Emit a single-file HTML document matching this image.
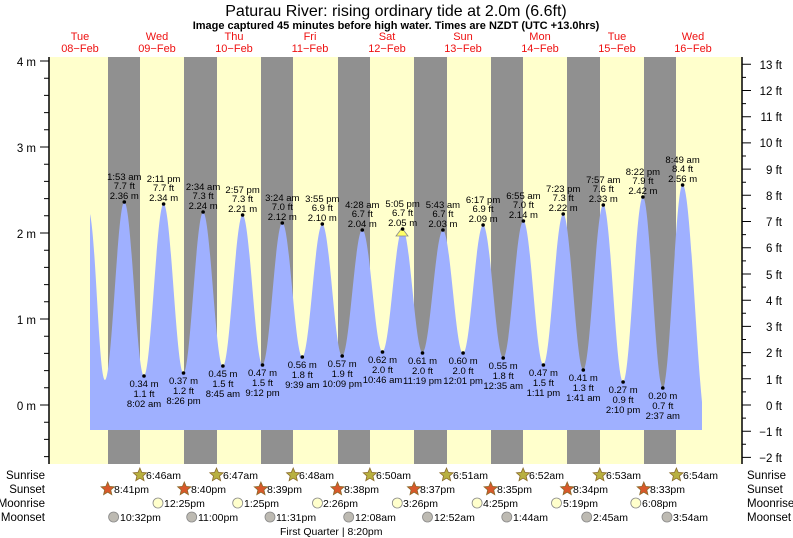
<!DOCTYPE html>
<html><head><meta charset="utf-8"><style>
body{margin:0;background:#fff;width:793px;height:538px;overflow:hidden}
svg{display:block;font-family:"Liberation Sans",sans-serif}
.hl text,.ll text{font-size:9.5px;text-anchor:middle;fill:#000}
.r{font-size:11.5px;fill:#000}
</style></head><body>
<svg width="793" height="538" viewBox="0 0 793 538" xmlns="http://www.w3.org/2000/svg" xmlns:xlink="http://www.w3.org/1999/xlink">
<defs>
<polygon id="st" points="0,-7 1.88,-2.59 6.66,-2.16 3.04,0.99 4.11,5.66 0,3.2 -4.11,5.66 -3.04,0.99 -6.66,-2.16 -1.88,-2.59" stroke="#8a6a2a" stroke-width="0.8"/>
<circle id="mc" cx="0" cy="0" r="5" stroke="#888" stroke-width="0.8"/>
</defs>
<rect x="49" y="57" width="693" height="407" fill="#ffffcc"/>
<g fill="#909090">
<rect x="108" y="57" width="32" height="407"/><rect x="184" y="57" width="33" height="407"/>
<rect x="261" y="57" width="32" height="407"/><rect x="338" y="57" width="32" height="407"/>
<rect x="414" y="57" width="33" height="407"/><rect x="491" y="57" width="32" height="407"/>
<rect x="567" y="57" width="33" height="407"/><rect x="644" y="57" width="32" height="407"/>
</g>
<path fill="#9fb0ff" d="M90,430 L90,214 C96,240 99,380 105,380
C112,380 117.3,202 124.3,202
C131.5,202 136.8,375.8 144,375.8
C151.1,375.8 156.5,203.8 163.6,203.8
C170.8,203.8 176.3,373.2 183.5,373.2
C190.6,373.2 196,212.4 203.1,212.4
C210.3,212.4 215.7,366.3 222.9,366.3
C230.1,366.3 235.4,215 242.6,215
C249.8,215 255.3,364.6 262.5,364.6
C269.7,364.6 275.1,222.7 282.3,222.7
C289.6,222.7 295,356.8 302.3,356.8
C309.6,356.8 315,224.4 322.3,224.4
C329.5,224.4 335,356 342.2,356
C349.5,356 355,229.6 362.3,229.6
C369.7,229.6 375.1,351.7 382.5,351.7
C389.8,351.7 395.3,228.7 402.6,228.7
C409.8,228.7 415.3,352.5 422.5,352.5
C429.9,352.5 435.5,230.4 442.9,230.4
C450.3,230.4 455.7,353.4 463.1,353.4
C470.4,353.4 475.8,225.3 483.1,225.3
C490.4,225.3 495.9,357.7 503.2,357.7
C510.6,357.7 516,221 523.4,221
C530.7,221 536.1,364.6 543.4,364.6
C550.6,364.6 556,214.1 563.2,214.1
C570.5,214.1 576,369.7 583.3,369.7
C590.6,369.7 596,204.6 603.3,204.6
C610.5,204.6 615.9,381.8 623.1,381.8
C630.3,381.8 635.7,196.9 642.9,196.9
C650.1,196.9 655.6,387.8 662.8,387.8
C670,387.8 675.4,184.8 682.6,184.8
C689.8,184.8 695,330 702,402 L702,430 Z"/>
<polygon points="396,236 402,228 408,236" fill="#ffff66" stroke="#888" stroke-width="0.8"/>
<g stroke="#000" fill="none">
<line x1="49" y1="57" x2="49" y2="464" stroke-width="1.5"/>
<line x1="742" y1="57" x2="742" y2="464" stroke-width="1.5"/>
<path stroke-width="1" d="M40,61H49 M40,147H49 M40,233H49 M40,319H49 M40,405H49
M44,456.6H49 M44,439.4H49 M44,422.2H49 M44,387.8H49 M44,370.6H49 M44,353.4H49 M44,336.2H49
M44,301.8H49 M44,284.6H49 M44,267.4H49 M44,250.2H49 M44,215.8H49 M44,198.6H49 M44,181.4H49 M44,164.2H49
M44,129.8H49 M44,112.6H49 M44,95.4H49 M44,78.2H49
M742,457.4H751 M742,431.2H751 M742,405H751 M742,378.8H751 M742,352.6H751 M742,326.4H751 M742,300.2H751 M742,274H751
M742,247.7H751 M742,221.5H751 M742,195.3H751 M742,169.1H751 M742,142.9H751 M742,116.7H751 M742,90.5H751 M742,64.2H751
M742,444.3H746 M742,418.1H746 M742,391.9H746 M742,365.7H746 M742,339.5H746 M742,313.3H746 M742,287.1H746 M742,260.9H746
M742,234.6H746 M742,208.4H746 M742,182.2H746 M742,156H746 M742,129.8H746 M742,103.6H746 M742,77.4H746"/>
</g>
<g class="r" text-anchor="end">
<text x="36" y="66">4 m</text><text x="36" y="152">3 m</text><text x="36" y="238">2 m</text><text x="36" y="324">1 m</text><text x="36" y="410">0 m</text>
</g>
<g class="r" text-anchor="end">
<text x="782" y="69">13 ft</text><text x="782" y="95">12 ft</text><text x="782" y="121">11 ft</text><text x="782" y="147">10 ft</text>
<text x="782" y="174">9 ft</text><text x="782" y="200">8 ft</text><text x="782" y="226">7 ft</text><text x="782" y="252">6 ft</text>
<text x="782" y="279">5 ft</text><text x="782" y="305">4 ft</text><text x="782" y="331">3 ft</text><text x="782" y="357">2 ft</text>
<text x="782" y="384">1 ft</text><text x="782" y="410">0 ft</text><text x="782" y="436">−1 ft</text><text x="782" y="462">−2 ft</text>
</g>
<text x="396" y="16" font-size="16" text-anchor="middle">Paturau River: rising  ordinary tide at 2.0m (6.6ft)</text>
<text x="396" y="29" font-size="11" font-weight="bold" text-anchor="middle">Image captured 45 minutes before high water. Times are NZDT (UTC +13.0hrs)</text>
<g font-size="11" fill="#ee1111" text-anchor="middle">
<text x="80" y="40">Tue</text><text x="80" y="52">08−Feb</text>
<text x="157" y="40">Wed</text><text x="157" y="52">09−Feb</text>
<text x="234" y="40">Thu</text><text x="234" y="52">10−Feb</text>
<text x="310" y="40">Fri</text><text x="310" y="52">11−Feb</text>
<text x="387" y="40">Sat</text><text x="387" y="52">12−Feb</text>
<text x="463" y="40">Sun</text><text x="463" y="52">13−Feb</text>
<text x="540" y="40">Mon</text><text x="540" y="52">14−Feb</text>
<text x="617" y="40">Tue</text><text x="617" y="52">15−Feb</text>
<text x="693" y="40">Wed</text><text x="693" y="52">16−Feb</text>
</g>
<g class="hl">
<circle cx="124.3" cy="202" r="1.8"/><text x="124.3" y="180">1:53 am</text><text x="124.3" y="189">7.7 ft</text><text x="124.3" y="199">2.36 m</text>
<circle cx="163.6" cy="204" r="1.8"/><text x="163.6" y="182">2:11 pm</text><text x="163.6" y="191">7.7 ft</text><text x="163.6" y="201">2.34 m</text>
<circle cx="203.1" cy="212" r="1.8"/><text x="203.1" y="190">2:34 am</text><text x="203.1" y="199">7.3 ft</text><text x="203.1" y="209">2.24 m</text>
<circle cx="242.6" cy="215" r="1.8"/><text x="242.6" y="193">2:57 pm</text><text x="242.6" y="202">7.3 ft</text><text x="242.6" y="212">2.21 m</text>
<circle cx="282.3" cy="223" r="1.8"/><text x="282.3" y="201">3:24 am</text><text x="282.3" y="210">7.0 ft</text><text x="282.3" y="220">2.12 m</text>
<circle cx="322.3" cy="224" r="1.8"/><text x="322.3" y="202">3:55 pm</text><text x="322.3" y="211">6.9 ft</text><text x="322.3" y="221">2.10 m</text>
<circle cx="362.3" cy="230" r="1.8"/><text x="362.3" y="208">4:28 am</text><text x="362.3" y="217">6.7 ft</text><text x="362.3" y="227">2.04 m</text>
<circle cx="402.6" cy="229" r="1.8"/><text x="402.6" y="207">5:05 pm</text><text x="402.6" y="216">6.7 ft</text><text x="402.6" y="226">2.05 m</text>
<circle cx="442.9" cy="230" r="1.8"/><text x="442.9" y="208">5:43 am</text><text x="442.9" y="217">6.7 ft</text><text x="442.9" y="227">2.03 m</text>
<circle cx="483.1" cy="225" r="1.8"/><text x="483.1" y="203">6:17 pm</text><text x="483.1" y="212">6.9 ft</text><text x="483.1" y="222">2.09 m</text>
<circle cx="523.4" cy="221" r="1.8"/><text x="523.4" y="199">6:55 am</text><text x="523.4" y="208">7.0 ft</text><text x="523.4" y="218">2.14 m</text>
<circle cx="563.2" cy="214" r="1.8"/><text x="563.2" y="192">7:23 pm</text><text x="563.2" y="201">7.3 ft</text><text x="563.2" y="211">2.22 m</text>
<circle cx="603.3" cy="205" r="1.8"/><text x="603.3" y="183">7:57 am</text><text x="603.3" y="192">7.6 ft</text><text x="603.3" y="202">2.33 m</text>
<circle cx="642.9" cy="197" r="1.8"/><text x="642.9" y="175">8:22 pm</text><text x="642.9" y="184">7.9 ft</text><text x="642.9" y="194">2.42 m</text>
<circle cx="682.6" cy="185" r="1.8"/><text x="682.6" y="163">8:49 am</text><text x="682.6" y="172">8.4 ft</text><text x="682.6" y="182">2.56 m</text>
</g>
<g class="ll">
<circle cx="144" cy="376" r="1.8"/><text x="144" y="387">0.34 m</text><text x="144" y="397">1.1 ft</text><text x="144" y="407">8:02 am</text>
<circle cx="183.5" cy="373" r="1.8"/><text x="183.5" y="384">0.37 m</text><text x="183.5" y="394">1.2 ft</text><text x="183.5" y="404">8:26 pm</text>
<circle cx="222.9" cy="366" r="1.8"/><text x="222.9" y="377">0.45 m</text><text x="222.9" y="387">1.5 ft</text><text x="222.9" y="397">8:45 am</text>
<circle cx="262.5" cy="365" r="1.8"/><text x="262.5" y="376">0.47 m</text><text x="262.5" y="386">1.5 ft</text><text x="262.5" y="396">9:12 pm</text>
<circle cx="302.3" cy="357" r="1.8"/><text x="302.3" y="368">0.56 m</text><text x="302.3" y="378">1.8 ft</text><text x="302.3" y="388">9:39 am</text>
<circle cx="342.2" cy="356" r="1.8"/><text x="342.2" y="367">0.57 m</text><text x="342.2" y="377">1.9 ft</text><text x="342.2" y="387">10:09 pm</text>
<circle cx="382.5" cy="352" r="1.8"/><text x="382.5" y="363">0.62 m</text><text x="382.5" y="373">2.0 ft</text><text x="382.5" y="383">10:46 am</text>
<circle cx="422.5" cy="353" r="1.8"/><text x="422.5" y="364">0.61 m</text><text x="422.5" y="374">2.0 ft</text><text x="422.5" y="384">11:19 pm</text>
<circle cx="463.1" cy="353" r="1.8"/><text x="463.1" y="364">0.60 m</text><text x="463.1" y="374">2.0 ft</text><text x="463.1" y="384">12:01 pm</text>
<circle cx="503.2" cy="358" r="1.8"/><text x="503.2" y="369">0.55 m</text><text x="503.2" y="379">1.8 ft</text><text x="503.2" y="389">12:35 am</text>
<circle cx="543.4" cy="365" r="1.8"/><text x="543.4" y="376">0.47 m</text><text x="543.4" y="386">1.5 ft</text><text x="543.4" y="396">1:11 pm</text>
<circle cx="583.3" cy="370" r="1.8"/><text x="583.3" y="381">0.41 m</text><text x="583.3" y="391">1.3 ft</text><text x="583.3" y="401">1:41 am</text>
<circle cx="623.1" cy="382" r="1.8"/><text x="623.1" y="393">0.27 m</text><text x="623.1" y="403">0.9 ft</text><text x="623.1" y="413">2:10 pm</text>
<circle cx="662.8" cy="388" r="1.8"/><text x="662.8" y="399">0.20 m</text><text x="662.8" y="409">0.7 ft</text><text x="662.8" y="419">2:37 am</text>
</g>
<g class="r" text-anchor="end">
<text x="45" y="479">Sunrise</text><text x="45" y="493">Sunset</text><text x="45" y="507">Moonrise</text><text x="45" y="521">Moonset</text>
</g>
<g class="r">
<text x="747" y="479">Sunrise</text><text x="747" y="493">Sunset</text><text x="747" y="507">Moonrise</text><text x="747" y="521">Moonset</text>
</g>
<g fill="#b8b040">
<use xlink:href="#st" href="#st" x="139.9" y="475"/><use xlink:href="#st" href="#st" x="216.5" y="475"/><use xlink:href="#st" href="#st" x="293.2" y="475"/><use xlink:href="#st" href="#st" x="369.9" y="475"/>
<use xlink:href="#st" href="#st" x="446.5" y="475"/><use xlink:href="#st" href="#st" x="523.1" y="475"/><use xlink:href="#st" href="#st" x="599.8" y="475"/><use xlink:href="#st" href="#st" x="676.4" y="475"/>
</g>
<g fill="#d8582a">
<use xlink:href="#st" href="#st" x="107.7" y="489"/><use xlink:href="#st" href="#st" x="184.3" y="489"/><use xlink:href="#st" href="#st" x="260.9" y="489"/><use xlink:href="#st" href="#st" x="337.5" y="489"/>
<use xlink:href="#st" href="#st" x="414.1" y="489"/><use xlink:href="#st" href="#st" x="490.7" y="489"/><use xlink:href="#st" href="#st" x="567.2" y="489"/><use xlink:href="#st" href="#st" x="643.8" y="489"/>
</g>
<g fill="#ffffcc">
<use xlink:href="#mc" href="#mc" x="158" y="503"/><use xlink:href="#mc" href="#mc" x="237.7" y="503"/><use xlink:href="#mc" href="#mc" x="317.5" y="503"/><use xlink:href="#mc" href="#mc" x="397.3" y="503"/>
<use xlink:href="#mc" href="#mc" x="477.1" y="503"/><use xlink:href="#mc" href="#mc" x="556.5" y="503"/><use xlink:href="#mc" href="#mc" x="635.8" y="503"/>
</g>
<g fill="#bdbab2">
<use xlink:href="#mc" href="#mc" x="113.6" y="517"/><use xlink:href="#mc" href="#mc" x="191.7" y="517"/><use xlink:href="#mc" href="#mc" x="270" y="517"/><use xlink:href="#mc" href="#mc" x="348.7" y="517"/>
<use xlink:href="#mc" href="#mc" x="427.5" y="517"/><use xlink:href="#mc" href="#mc" x="506.8" y="517"/><use xlink:href="#mc" href="#mc" x="586.7" y="517"/><use xlink:href="#mc" href="#mc" x="667" y="517"/>
</g>
<g font-size="10.5" fill="#000">
<text x="146" y="479">6:46am</text><text x="223" y="479">6:47am</text><text x="299" y="479">6:48am</text><text x="376" y="479">6:50am</text>
<text x="453" y="479">6:51am</text><text x="529" y="479">6:52am</text><text x="606" y="479">6:53am</text><text x="683" y="479">6:54am</text>
<text x="114" y="493">8:41pm</text><text x="191" y="493">8:40pm</text><text x="267" y="493">8:39pm</text><text x="344" y="493">8:38pm</text>
<text x="420" y="493">8:37pm</text><text x="497" y="493">8:35pm</text><text x="573" y="493">8:34pm</text><text x="650" y="493">8:33pm</text>
<text x="164" y="507">12:25pm</text><text x="244" y="507">1:25pm</text><text x="323" y="507">2:26pm</text><text x="403" y="507">3:26pm</text>
<text x="483" y="507">4:25pm</text><text x="563" y="507">5:19pm</text><text x="642" y="507">6:08pm</text>
<text x="120" y="521">10:32pm</text><text x="198" y="521">11:00pm</text><text x="276" y="521">11:31pm</text><text x="355" y="521">12:08am</text>
<text x="434" y="521">12:52am</text><text x="513" y="521">1:44am</text><text x="593" y="521">2:45am</text><text x="673" y="521">3:54am</text>
<text x="280" y="535">First Quarter | 8:20pm</text>
</g>
</svg>
</body></html>
